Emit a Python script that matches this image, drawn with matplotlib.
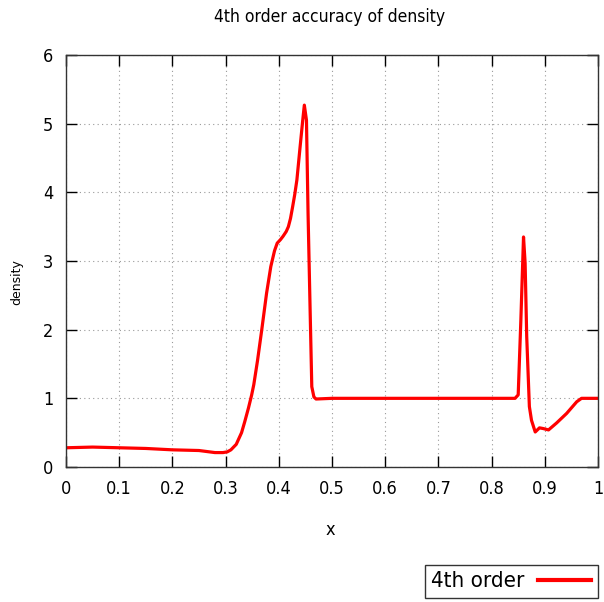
import matplotlib
matplotlib.use("Agg")
import matplotlib.pyplot as plt
from matplotlib.lines import Line2D

x = [0.0, 0.05, 0.1, 0.15, 0.2, 0.25, 0.28, 0.295, 0.303, 0.31, 0.32, 0.33, 0.336, 0.343,
     0.349, 0.353, 0.36, 0.368, 0.377, 0.385, 0.392, 0.397, 0.403, 0.408, 0.414, 0.418,
     0.422, 0.426, 0.430, 0.434, 0.44, 0.445, 0.448, 0.452,
     0.455, 0.459, 0.462, 0.466, 0.47, 0.5, 0.6, 0.7, 0.8, 0.844, 0.85, 0.855, 0.86, 0.863,
     0.866, 0.871, 0.875, 0.882, 0.89, 0.897, 0.907, 0.922, 0.941, 0.96, 0.969, 1.0]
density = [0.28, 0.29, 0.28, 0.27, 0.25, 0.24, 0.21, 0.21, 0.22, 0.25, 0.33, 0.50, 0.66, 0.86,
           1.05, 1.2, 1.55, 2.0, 2.53, 2.92, 3.15, 3.26, 3.31, 3.36, 3.43, 3.5,
           3.62, 3.79, 3.97, 4.18, 4.66, 5.05, 5.27, 5.05,
           3.69, 2.24, 1.17, 1.02, 0.99, 1.0, 1.0, 1.0, 1.0, 1.0, 1.05, 2.14, 3.35, 2.97,
           1.9, 0.88, 0.68, 0.51, 0.57, 0.56, 0.54, 0.64, 0.78, 0.95, 1.0, 1.0]

xticks = [0, 0.1, 0.2, 0.3, 0.4, 0.5, 0.6, 0.7, 0.8, 0.9, 1]
xticklabels = ["0", "0.1", "0.2", "0.3", "0.4", "0.5", "0.6", "0.7", "0.8", "0.9", "1"]
yticks = [0, 1, 2, 3, 4, 5, 6]

fig = plt.figure(figsize=(6.04, 6.02), dpi=100)
ax = fig.add_axes([66 / 604, 1 - 467 / 602, (598 - 66) / 604, (467 - 55) / 602])
ax.plot(x, density, color="#ff0000", lw=2.3, label="4th order")
ax.set_xlim(0, 1)
ax.set_ylim(0, 6)
ax.set_xticks(xticks)
ax.set_xticklabels(xticklabels, fontsize=13, fontstretch="condensed")
ax.set_yticks(yticks)
ax.set_yticklabels([str(v) for v in yticks], fontsize=13, fontstretch="condensed")
ax.tick_params(direction="in", length=8, width=1, top=True, right=True, pad=9)
ax.grid(True, color="#999999", linestyle=(0, (1, 3)), lw=0.8)
for s in ax.spines.values():
    s.set_linewidth(1)
    s.set_color("#333333")

fig.text(330 / 604, 1 - 17 / 602, "4th order accuracy of density", ha="center", va="center",
         fontsize=12.5, fontstretch="condensed")
fig.text(330 / 604, 1 - 530 / 602, "x", ha="center", va="center", fontsize=13,
         fontstretch="condensed")
fig.text(17 / 604, 1 - 282 / 602, "density", ha="center", va="center", rotation=90, fontsize=9)

handle = Line2D([], [], color="#ff0000", lw=3)
leg = fig.legend([handle], ["4th order"], loc="lower right", bbox_to_anchor=(598 / 604, 1 - 598 / 602),
                 prop={"size": 16, "stretch": "condensed"}, markerfirst=False, fancybox=False,
                 frameon=True, borderaxespad=0, handlelength=2.4, borderpad=0.3, handletextpad=0.6)
leg.get_frame().set_edgecolor("black")
leg.get_frame().set_linewidth(1)

fig.savefig("out.png", dpi=100)
